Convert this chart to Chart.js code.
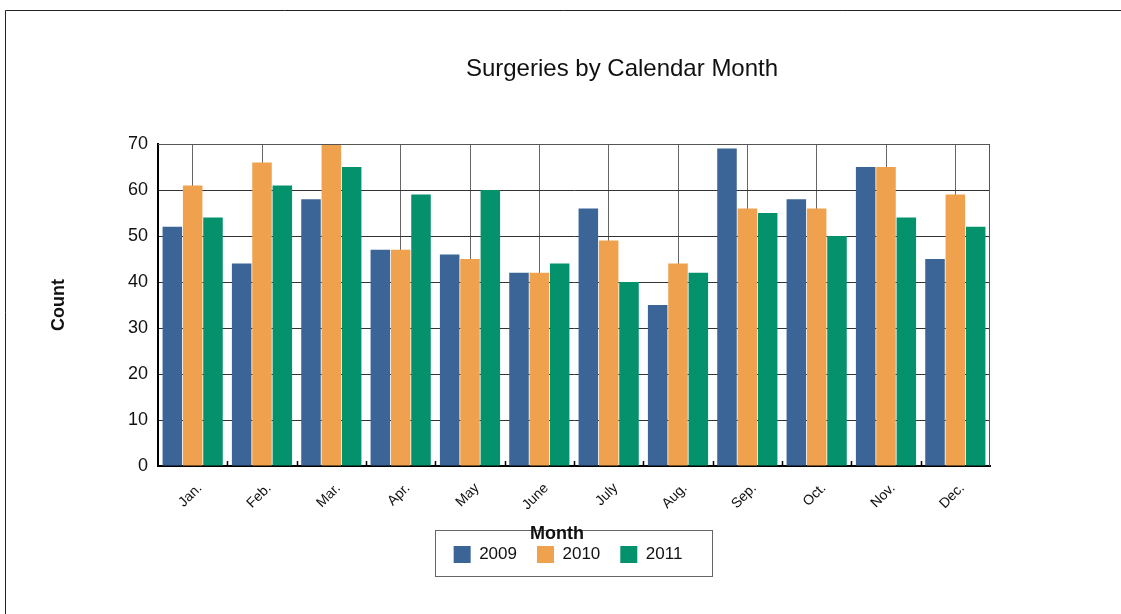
<!DOCTYPE html>
<html>
<head>
<meta charset="utf-8">
<script src="https://cdn.jsdelivr.net/npm/chart.js@4.4.1/dist/chart.umd.min.js"></script>
<style>
  html, body { margin: 0; padding: 0; background: #fff; }
  #wrap { width: 1121px; height: 614px; }
</style>
</head>
<body>
<div id="wrap"><canvas id="surgChart" width="1121" height="614"></canvas></div>
<script>
// chart data
const months = ['Jan.', 'Feb.', 'Mar.', 'Apr.', 'May', 'June', 'July', 'Aug.', 'Sep.', 'Oct.', 'Nov.', 'Dec.'];
const years = ['2009', '2010', '2011'];
const counts2009 = [52, 44, 58, 47, 46, 42, 56, 35, 69, 58, 65, 45];
const counts2010 = [61, 66, 70, 47, 45, 42, 49, 44, 56, 56, 65, 59];
const counts2011 = [54, 61, 65, 59, 60, 44, 40, 42, 55, 50, 54, 52];
const yMax = 70;
const yStep = 10;

const colors = ['#3b6497', '#f0a14e', '#04926d'];
const FONT = 'Liberation Sans, Arial, sans-serif';

// frame, plot border, boundary ticks and titles
const decor = {
    id: 'decor',
    afterLayout(chart) {
        // nudge the legend row to where it sits in the original
        const lg = chart.legend;
        lg.left -= 6; lg.right -= 6;
        lg.top -= 11; lg.bottom -= 11;
    },
    beforeDraw(chart) {
        const ctx = chart.ctx;
        ctx.save();
        ctx.fillStyle = '#fff';
        ctx.fillRect(0, 0, chart.width, chart.height);
        ctx.strokeStyle = '#222';
        ctx.lineWidth = 1;
        ctx.beginPath();
        ctx.moveTo(5.5, chart.height);
        ctx.lineTo(5.5, 10.5);
        ctx.lineTo(chart.width, 10.5);
        ctx.stroke();
        ctx.restore();
    },
    afterDraw(chart) {
        const ctx = chart.ctx;
        const a = chart.chartArea;
        const x = chart.scales.x;
        ctx.save();
        // top and right border of the plot
        ctx.strokeStyle = '#555';
        ctx.lineWidth = 1;
        ctx.beginPath();
        ctx.moveTo(a.left, a.top + 0.5);
        ctx.lineTo(a.right - 0.5, a.top + 0.5);
        ctx.lineTo(a.right - 0.5, a.bottom);
        ctx.stroke();

        // small inner ticks between the months
        const half = (x.getPixelForValue(1) - x.getPixelForValue(0)) / 2;
        ctx.strokeStyle = '#000';
        ctx.lineWidth = 1.5;
        ctx.beginPath();
        for (let i = 1; i < months.length; i++) {
            const px = Math.round(x.getPixelForValue(i) - half) + 0.5;
            ctx.moveTo(px, a.bottom);
            ctx.lineTo(px, a.bottom - 5);
        }
        ctx.stroke();

        // title
        ctx.fillStyle = '#111';
        ctx.textAlign = 'center';
        ctx.textBaseline = 'middle';
        ctx.font = '24px ' + FONT;
        ctx.fillText('Surgeries by Calendar Month', 622, 69);

        // y title
        ctx.font = 'bold 18px ' + FONT;
        ctx.save();
        ctx.translate(59, 305);
        ctx.rotate(-Math.PI / 2);
        ctx.fillText('Count', 0, 0);
        ctx.restore();

        // legend box + x title
        ctx.strokeStyle = '#666';
        ctx.lineWidth = 1;
        ctx.strokeRect(435.5, 530.5, 277, 46);
        ctx.fillStyle = '#111';
        ctx.font = 'bold 18px ' + FONT;
        ctx.fillText('Month', 557, 534);
        ctx.restore();
    }
};

const ctx = document.getElementById('surgChart').getContext('2d');
const chart = new Chart(ctx, {
    type: 'bar',
    data: {
        labels: months,
        datasets: [
            { label: years[0], data: counts2009, backgroundColor: colors[0] },
            { label: years[1], data: counts2010, backgroundColor: colors[1] },
            { label: years[2], data: counts2011, backgroundColor: colors[2] }
        ]
    },
    options: {
        responsive: false,
        animation: false,
        devicePixelRatio: 1,
        layout: { padding: { left: 40, right: 131, top: 144, bottom: 30 } },
        datasets: {
            bar: { categoryPercentage: 0.88, barPercentage: 0.96, borderWidth: 0 }
        },
        scales: {
            x: {
                grid: { offset: false, color: '#666', lineWidth: 1, drawTicks: false },
                border: { color: '#000', width: 2 },
                ticks: {
                    maxRotation: 45, minRotation: 45, padding: 14, labelOffset: 7,
                    color: '#111', font: { family: FONT, size: 14 }
                },
                afterFit(scale) { scale.height = 71; }
            },
            y: {
                min: 0, max: yMax,
                grid: { color: '#333', lineWidth: 1, drawTicks: false },
                border: { color: '#000', width: 2 },
                ticks: {
                    stepSize: yStep, padding: 10,
                    color: '#111', font: { family: FONT, size: 18 }
                },
                afterFit(scale) { scale.width = 118; }
            }
        },
        plugins: {
            legend: {
                position: 'bottom',
                fullSize: false,
                labels: {
                    boxWidth: 17, boxHeight: 17, padding: 20,
                    color: '#111', font: { family: FONT, size: 17 }
                }
            },
            title: { display: false },
            tooltip: { enabled: false }
        }
    },
    plugins: [decor]
});
</script>
</body>
</html>
